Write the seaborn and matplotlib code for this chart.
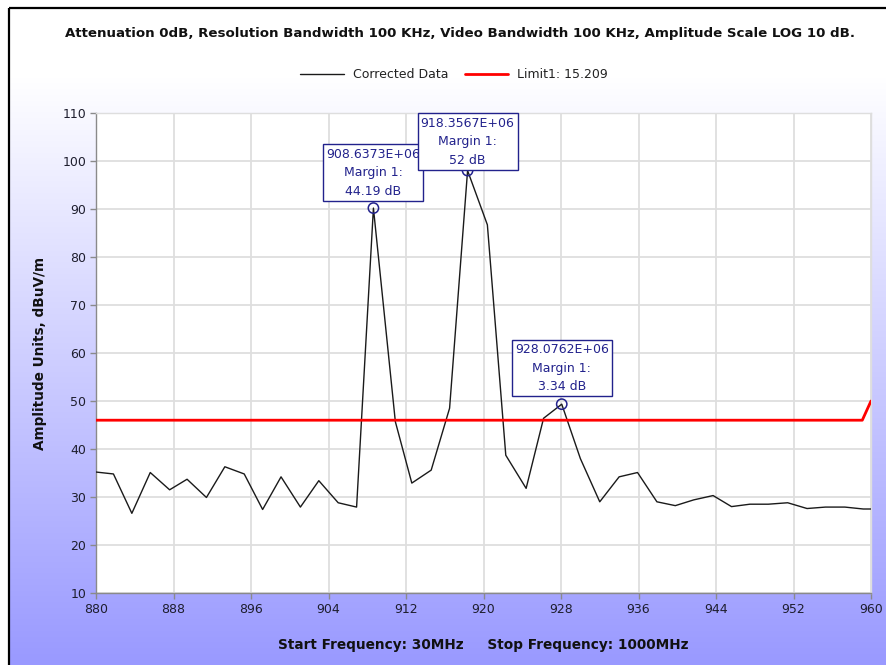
import numpy as np
import pandas as pd
import matplotlib
matplotlib.use("Agg")
import matplotlib.pyplot as plt
import seaborn as sns

# ---------------- data ----------------
freq_mhz = [880.0, 881.8, 883.7, 885.6, 887.6, 889.4, 891.4, 893.3, 895.3, 897.2,
            899.1, 901.1, 903.0, 905.0, 906.9, 908.6373, 910.9, 912.6, 914.6, 916.5,
            918.3567, 920.4, 922.3, 924.4, 926.2, 928.0762, 930.0, 932.0, 934.0, 935.9,
            937.9, 939.8, 941.7, 943.7, 945.6, 947.5, 949.4, 951.4, 953.4, 955.3,
            957.3, 959.2, 960.0]
amplitude = [35.2, 34.8, 26.6, 35.1, 31.5, 33.7, 29.9, 36.3, 34.8, 27.4,
             34.2, 27.9, 33.4, 28.8, 27.9, 90.19, 45.7, 32.9, 35.6, 48.5,
             98.0, 86.7, 38.7, 31.8, 46.4, 49.34, 38.0, 29.0, 34.2, 35.1,
             29.0, 28.2, 29.4, 30.3, 28.0, 28.5, 28.5, 28.8, 27.6, 27.9,
             27.9, 27.5, 27.5]
limit_freq = [880.0, 959.1, 960.0]
limit_level = [46.0, 46.0, 50.0]
marker_freq = [908.6373, 918.3567, 928.0762]
marker_level = [90.19, 98.0, 49.34]
marker_labels = ["908.6373E+06\nMargin 1:\n44.19 dB",
                 "918.3567E+06\nMargin 1:\n52 dB",
                 "928.0762E+06\nMargin 1:\n3.34 dB"]
marker_offsets_px = [35.5, 29.0, 36.0]
x_ticks = [880, 888, 896, 904, 912, 920, 928, 936, 944, 952, 960]
y_ticks = [10, 20, 30, 40, 50, 60, 70, 80, 90, 100, 110]

title_text = ("Attenuation 0dB, Resolution Bandwidth 100 KHz, Video Bandwidth 100 KHz, "
              "Amplitude Scale LOG 10 dB.")
xlabel_text = "Start Frequency: 30MHz     Stop Frequency: 1000MHz"
ylabel_text = "Amplitude Units, dBuV/m"

df_data = pd.DataFrame({"freq": freq_mhz, "amp": amplitude})
df_limit = pd.DataFrame({"freq": limit_freq, "amp": limit_level})
df_mark = pd.DataFrame({"freq": marker_freq, "amp": marker_level})

# ---------------- figure ----------------
sns.set_theme(style="white")
plt.rcParams["font.family"] = ["DejaVu Sans"]

W, H = 886, 665
fig = plt.figure(figsize=(W / 100, H / 100), dpi=100)
fig.patch.set_facecolor("white")

# background gradient
bg = fig.add_axes([0, 0, 1, 1], zorder=-10)
bg.set_xlim(0, W)
bg.set_ylim(H, 0)
bg.axis("off")
rows = np.arange(H)
t = np.clip((rows - 70) / (H - 70), 0, 1)
top = np.array([1.0, 1.0, 1.0])
bot = np.array([0.60, 0.60, 1.0])
grad = top[None, :] * (1 - t[:, None]) + bot[None, :] * t[:, None]
img = np.repeat(grad[:, None, :], 2, axis=1)
bg.imshow(img, extent=[10, W, H, 8], aspect="auto", interpolation="bilinear")
bg.plot([9.5, 9.5], [H, 7.5], color="black", lw=1.6, solid_capstyle="butt")
bg.plot([9.5, W], [7.5, 7.5], color="black", lw=1.6, solid_capstyle="butt")

# main axes
L, R, T, B = 96, 871, 113, 593
ax = fig.add_axes([L / W, (H - B) / H, (R - L) / W, (B - T) / H])
ax.set_facecolor("white")

navy = "#22228c"
sns.lineplot(data=df_data, x="freq", y="amp", ax=ax, color="#1a1a1a", lw=1.0,
             label="Corrected Data", sort=False, zorder=3)
sns.lineplot(data=df_limit, x="freq", y="amp", ax=ax, color="#ff0000", lw=2.0,
             label="Limit1: 15.209", sort=False, zorder=4)
sns.scatterplot(data=df_mark, x="freq", y="amp", ax=ax, marker="o", s=55,
                facecolor="none", edgecolor=navy, linewidth=1.1, zorder=5, legend=False)

for fx, fy, lab, off in zip(marker_freq, marker_level, marker_labels, marker_offsets_px):
    ax.annotate(lab, xy=(fx, fy), xytext=(0, off), textcoords="offset pixels",
                ha="center", va="center", color=navy, fontsize=9.0, linespacing=1.55,
                bbox=dict(boxstyle="square,pad=0.25", fc="white", ec=navy, lw=1.0),
                zorder=6)

ax.set_xlim(880, 960)
ax.set_ylim(10, 110)
ax.set_xticks(x_ticks)
ax.set_yticks(y_ticks)
ax.grid(True, color="#dedede", lw=1.3)
ax.set_axisbelow(True)
for side in ["left", "bottom"]:
    ax.spines[side].set_color("#8a8a8a")
    ax.spines[side].set_linewidth(1.0)
for side in ["top", "right"]:
    ax.spines[side].set_color("#dedede")
    ax.spines[side].set_linewidth(1.0)
ax.tick_params(axis="both", which="major", direction="out", length=4, width=1,
               color="#8a8a8a", labelsize=9, labelcolor="#1e1e2e", pad=3,
               left=True, bottom=True)
ax.set_xlabel("")
ax.set_ylabel("")

# legend
handles, labels = ax.get_legend_handles_labels()
ax.legend(handles, labels, loc="center", bbox_to_anchor=(454 / W, 1 - 75 / H),
          bbox_transform=fig.transFigure, ncol=2, frameon=False, fontsize=9,
          handlelength=3.5, handletextpad=0.7, columnspacing=1.3, labelcolor="#222222")

# texts
fig.text(460 / W, 1 - 33 / H, title_text, ha="center", va="center",
         fontsize=9.65, fontweight="bold", color="#111111")
fig.text(483 / W, 1 - 645 / H, xlabel_text, ha="center", va="center",
         fontsize=9.8, fontweight="bold", color="#111111")
fig.text(40 / W, 1 - 353 / H, ylabel_text, ha="center", va="center", rotation=90,
         fontsize=9.8, fontweight="bold", color="#111111")

fig.savefig("out.png", dpi=100)
